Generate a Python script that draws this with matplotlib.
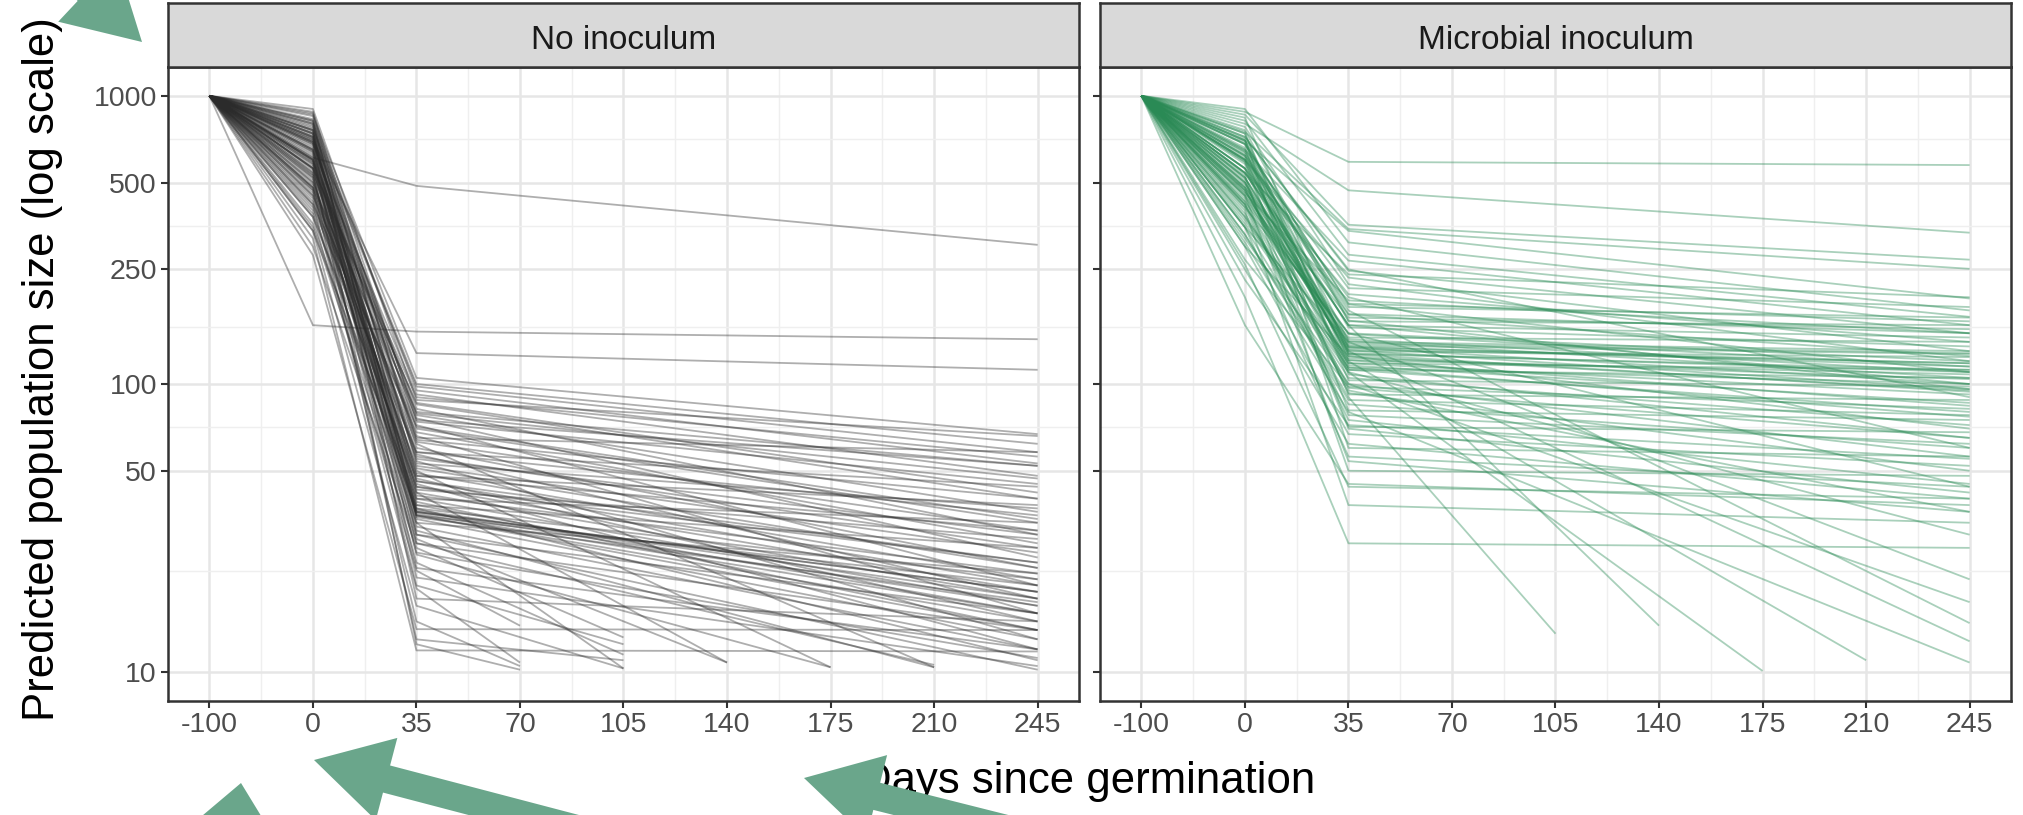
import numpy as np
import matplotlib
matplotlib.use('Agg')
import matplotlib.pyplot as plt
from matplotlib.patches import FancyArrow

plt.rcParams['font.family'] = ['Liberation Sans', 'DejaVu Sans']

days = [-100, 0, 35, 70, 105, 140, 175, 210, 245]
y_breaks = [10, 50, 100, 250, 500, 1000]
start_size = 1000
panel_titles = ['No inoculum', 'Microbial inoculum']

# No inoculum: size at day 0, size at day 35, last day inside the plot, size on that day
ctl_day0 = [610, 160, 700, 850, 780, 820, 650, 900, 560, 720,
            480, 760, 600, 680, 530, 830, 450, 740, 620, 500,
            880, 410, 690, 580, 770, 470, 640, 540, 860, 380,
            710, 590, 430, 800, 660, 520, 340, 750, 610, 460,
            700, 560, 820, 400, 630, 490, 730, 580, 360, 670,
            520, 790, 440, 650, 300, 570, 710, 480, 600, 380,
            690, 530, 420, 760, 340, 470, 280, 550, 320, 640,
            740, 590, 680, 870, 560, 500, 800, 450, 720, 760,
            540, 690, 420, 810, 600, 480, 720, 560, 650, 390,
            740, 510, 600, 350]
ctl_day35 = [487, 152, 128, 105, 100, 95, 92, 88, 85, 82,
             80, 78, 76, 74, 72, 70, 68, 66, 64, 62,
             60, 58, 57, 55, 54, 52, 50, 49, 48, 47,
             46, 45, 44, 43, 42, 41, 40, 39, 38, 37,
             36.5, 36, 36, 35.5, 35, 35, 34.5, 34, 33, 32,
             31, 30, 29, 28, 27, 26, 25.6, 24, 23, 22.5,
             21.3, 20, 19.5, 18, 17, 15, 14.1, 13, 11.9, 12.5,
             40, 58, 65, 75, 90, 48, 53, 44, 37, 98,
             86, 79, 71, 63, 56, 51, 46, 42, 38, 36,
             35, 33, 30, 28]
ctl_last_day = [245, 245, 245, 245, 245, 245, 245, 245, 245, 245,
                245, 245, 245, 245, 245, 245, 245, 245, 245, 210,
                245, 245, 245, 245, 245, 245, 175, 245, 245, 245,
                245, 245, 245, 245, 140, 245, 245, 245, 245, 245,
                245, 245, 245, 245, 245, 245, 245, 245, 105, 245,
                210, 245, 140, 245, 105, 245, 175, 105, 245, 70,
                245, 105, 70, 245, 105, 70, 245, 105, 245, 70,
                245, 245, 245, 245, 245, 245, 245, 245, 245, 245,
                245, 245, 245, 245, 245, 245, 245, 245, 245, 245,
                245, 245, 245, 210]
ctl_last = [304, 143, 112, 67, 62, 53, 48, 66, 40, 30,
            52, 36, 25, 45, 20, 33, 28, 16, 40, 10.4,
            23, 35, 18, 30, 13, 26, 10.4, 21, 38, 15,
            24, 12, 19, 29, 10.8, 22, 17, 14, 27, 11,
            18, 17, 19, 16, 20, 15, 17.5, 13, 10.3, 12,
            10.4, 10.2, 10.8, 14, 13.2, 11.2, 10.4, 11.5, 12, 14.5,
            10.5, 12.5, 10.8, 15, 10.3, 10.5, 14.0, 11, 11.8, 10.2,
            33, 44, 58, 52, 56, 31, 37, 24, 21, 58,
            42, 47, 34, 31, 27, 23, 20, 18, 16, 19,
            14, 22, 16, 10.6]

# Microbial inoculum
inoc_day0 = [880, 800, 860, 750, 700, 820, 650, 720, 600, 780,
             560, 680, 540, 760, 620, 500, 700, 460, 640, 580,
             840, 520, 430, 690, 610, 370, 740, 480, 560, 330,
             660, 410, 590, 300, 710, 450, 530, 260, 400, 200,
             540, 420, 350, 470, 480, 320, 640, 500, 310, 600,
             450, 720, 430, 520, 620, 490, 560, 380, 470, 900,
             630, 540, 250, 160, 600, 470, 510, 350, 680, 420,
             680, 440, 590, 740, 390, 620, 480, 560, 410, 700,
             350, 520, 300, 450, 600, 380, 270, 500, 330, 420,
             230, 540, 650, 460, 360]
inoc_day35 = [590, 470, 357, 345, 340, 281, 268, 247, 234, 222,
              205, 189, 174, 166, 157, 149, 141, 134, 134, 130,
              127, 127, 121, 121, 114, 114, 103, 97, 92, 85,
              81, 75, 71, 67, 60, 54, 50, 44, 38, 28,
              160, 110, 90, 120, 140, 100, 180, 130, 80, 200,
              150, 250, 145, 138, 132, 128, 125, 118, 112, 310,
              175, 160, 62, 45, 136, 131, 70, 56, 108, 95,
              190, 143, 123, 116, 100, 185, 170, 160, 150, 165,
              140, 135, 125, 118, 112, 105, 98, 93, 88, 78,
              72, 240, 215, 195, 110]
inoc_last_day = [245, 245, 245, 245, 245, 245, 245, 245, 245, 245,
                 245, 245, 245, 245, 245, 245, 245, 245, 245, 245,
                 245, 245, 245, 245, 245, 245, 245, 245, 245, 245,
                 245, 245, 245, 245, 245, 245, 245, 245, 245, 245,
                 140, 175, 105, 210, 245, 245, 245, 245, 245, 245,
                 245, 245, 245, 245, 245, 245, 245, 245, 245, 245,
                 245, 245, 245, 245, 245, 245, 245, 245, 245, 245,
                 245, 245, 245, 245, 245, 245, 245, 245, 245, 245,
                 245, 245, 245, 245, 245, 245, 245, 245, 245, 245,
                 245, 245, 245, 245, 245]
inoc_last = [575, 335, 270, 251, 198, 171, 160, 150, 130, 120,
             140, 110, 125, 96, 135, 115, 105, 118, 100, 124,
             94, 112, 108, 84, 100, 77, 98, 65, 88, 60,
             75, 45, 68, 52, 56, 36, 48, 40, 33, 27,
             14.5, 10.1, 13.6, 11.0, 21, 17.5, 14.8, 12.8, 10.8, 60,
             44, 90, 140, 128, 118, 110, 70, 92, 80, 180,
             150, 100, 40, 38, 127, 96, 42, 44, 65, 36,
             165, 110, 104, 86, 56, 170, 155, 145, 120, 160,
             130, 115, 95, 112, 105, 72, 82, 50, 78, 62,
             55, 200, 185, 150, 30]

W, H = 2024, 815
fig = plt.figure(figsize=(W / 100, H / 100), dpi=100)

pos = list(range(len(days)))  # days are drawn evenly spaced


def draw_panel(left_px, d0, d35, last_day, last, color, alpha, title):
    ax = fig.add_axes([left_px / W, 1 - 701 / H, 911 / W, 634 / H])
    for a, b, ld, v in zip(d0, d35, last_day, last):
        xs = [pos[0], pos[1], pos[2], pos[days.index(ld)]]
        ys = [start_size, a, b, v]
        ax.plot(xs, ys, color=color, alpha=alpha, lw=1.3, solid_capstyle='butt')
    ax.set_yscale('log')
    ax.set_ylim(10 ** 0.9, 10 ** 3.1)
    ax.set_xlim(-0.4, 8.4)
    ax.set_xticks(pos)
    ax.set_xticklabels([str(d) for d in days])
    ax.set_xticks(np.arange(0.5, 8, 1), minor=True)
    ax.set_yticks(y_breaks)
    ax.set_yticklabels([str(v) for v in y_breaks])
    mids = [np.sqrt(y_breaks[i] * y_breaks[i + 1]) for i in range(len(y_breaks) - 1)]
    ax.set_yticks(mids, minor=True)
    ax.yaxis.set_minor_formatter(plt.NullFormatter())
    ax.tick_params(which='major', length=5, width=1.5, color='#333333',
                   labelsize=20.5, labelcolor='#4D4D4D', pad=3)
    ax.tick_params(which='minor', length=0)
    ax.grid(which='major', color='#E6E6E6', lw=1.8)
    ax.grid(which='minor', color='#EFEFEF', lw=1.0)
    ax.set_axisbelow(True)
    for s in ax.spines.values():
        s.set_color('#333333')
        s.set_linewidth(1.8)

    st = fig.add_axes([left_px / W, 1 - 67 / H, 911 / W, 64 / H])
    st.set_facecolor('#D9D9D9')
    st.set_xticks([])
    st.set_yticks([])
    for s in st.spines.values():
        s.set_color('#333333')
        s.set_linewidth(1.8)
    st.text(0.5, 0.42, title, ha='center', va='center', fontsize=24,
            color='#1A1A1A', transform=st.transAxes)
    return ax


ax1 = draw_panel(168, ctl_day0, ctl_day35, ctl_last_day, ctl_last,
                 '#2b2b2b', 0.38, panel_titles[0])
ax2 = draw_panel(1100, inoc_day0, inoc_day35, inoc_last_day, inoc_last,
                 '#2a8a55', 0.4, panel_titles[1])
ax2.set_yticklabels([])

fig.text(43 / W, 1 - 369 / H, 'Predicted population size (log scale)',
         rotation=90, ha='center', va='center', fontsize=31.5)
fig.text(1088 / W, 1 - 781 / H, 'Days since germination',
         ha='center', va='center', fontsize=31.5)

# green call-out arrows laid over the figure
ov = fig.add_axes([0, 0, 1, 1], zorder=10)
ov.set_xlim(0, W)
ov.set_ylim(H, 0)
ov.axis('off')
arrow_col = '#6aa68b'
arrows = [((-18, -108), (142, 42), 85, 75),
          ((222, 900), (241, 783), 120, 70),
          ((600, 835), (314, 760), 85, 75),
          ((1090, 850), (804, 778), 85, 75)]
for (x0, y0), (x1, y1), hw, hl in arrows:
    ov.add_patch(FancyArrow(x0, y0, x1 - x0, y1 - y0, width=28, head_width=hw,
                            head_length=hl, length_includes_head=True,
                            color=arrow_col, lw=0, clip_on=False))

fig.savefig('out.png', dpi=100)
